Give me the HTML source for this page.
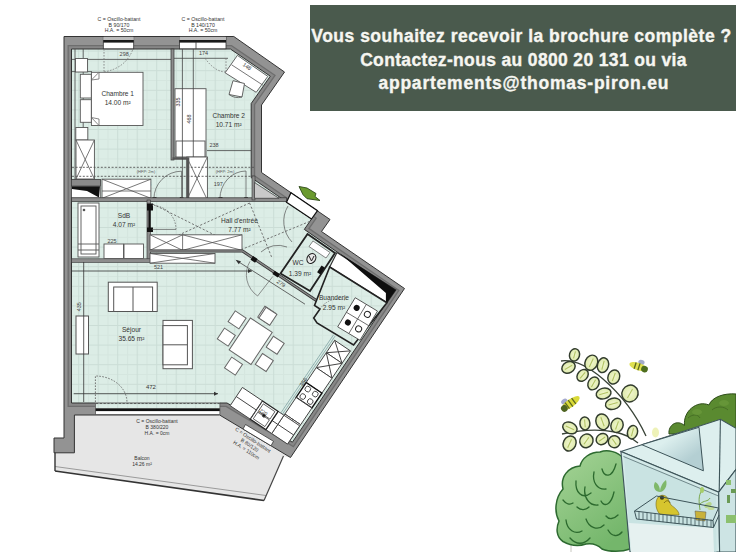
<!DOCTYPE html>
<html><head><meta charset="utf-8">
<style>
html,body{margin:0;padding:0;background:#fff;}
body{width:736px;height:552px;overflow:hidden;position:relative;font-family:"Liberation Sans",sans-serif;}
svg{position:absolute;left:0;top:0;}
.box{position:absolute;left:310px;top:5px;width:426px;height:105.5px;background:#4a5a4d;}
.box div{position:absolute;left:0;width:426px;text-align:center;color:#f6f6f1;font-weight:bold;font-size:17.5px;white-space:nowrap;line-height:20px;-webkit-text-stroke:0.35px #f6f6f1;}
</style></head><body>
<svg width="736" height="552" viewBox="0 0 736 552" font-family="Liberation Sans, sans-serif">
<defs>
<pattern id="grid" x="0.2" y="11.4" width="19.5" height="19.6" patternUnits="userSpaceOnUse">
<rect width="19.5" height="19.6" fill="#dcede6"/>
<path d="M0 10.3H19.5M10.25 0V19.6" stroke="#d5e6df" stroke-width="1"/>
<path d="M0 0.5H19.5M0.5 0V19.6" stroke="#cbddd6" stroke-width="1"/>
</pattern>
</defs>
<!-- balcony -->
<polygon points="74,414.5 219.6,414.5 290.5,457.5 283,456 264,500 55,471 55,452.8 74.4,452.8" fill="#e6e6e6"/>
<path d="M55,471 L264,500.5" stroke="#333" stroke-width="1.6" fill="none"/>
<path d="M55,466.5 L266,495.5" stroke="#666" stroke-width="0.6" fill="none"/>
<path d="M283.5,456 L264,500.5" stroke="#444" stroke-width="1.2" fill="none"/>
<path d="M55,452 L55,471" stroke="#333" stroke-width="1.4"/>
<!-- outer walls -->
<polygon points="64,36.5 233.8,36.5 284.5,72 261.5,105 261.5,172.5 330,219.5 321.5,231.5 404.5,288.5 290.5,457.5 219.6,415 74.4,415 74.4,438 74.4,452.8 54,452.8 54,438 64,438" fill="#939393" stroke="#333" stroke-width="1"/>
<!-- interior -->
<polygon points="71.5,49 230.4,49 270.3,76.2 251.2,103.5 251.2,177.6 311.5,219 304.3,229.4 394.2,291.3 292.4,442.2 227,403 71.5,403" fill="none" stroke="#6e6e6e" stroke-width="8"/>
<polygon points="71.5,49 230.4,49 270.3,76.2 251.2,103.5 251.2,177.6 311.5,219 304.3,229.4 394.2,291.3 292.4,442.2 227,403 71.5,403" fill="none" stroke="#878787" stroke-width="5.4"/>
<polygon points="71.5,49 230.4,49 270.3,76.2 251.2,103.5 251.2,177.6 311.5,219 304.3,229.4 394.2,291.3 292.4,442.2 227,403 71.5,403" fill="url(#grid)" stroke="#333" stroke-width="1"/>
<!-- ===== top windows & labels ===== -->
<g font-size="5.2" fill="#333" text-anchor="middle">
<text x="119" y="21">C = Oscillo-battant</text><text x="119" y="26.6">B 90/170</text><text x="119" y="32.2">H.A. = 50cm</text>
<text x="203" y="21">C = Oscillo-battant</text><text x="203" y="26.6">B 140/170</text><text x="203" y="32.2">H.A. = 50cm</text>
</g>
<rect x="103.3" y="36.5" width="30.4" height="12.3" fill="#fff" stroke="#333" stroke-width="0.8"/>
<rect x="103.3" y="37" width="30.4" height="3" fill="#bbb"/>
<rect x="103.3" y="40" width="30.4" height="2.6" fill="#1a1a1a"/>
<rect x="179.4" y="36.5" width="46.6" height="12.3" fill="#fff" stroke="#333" stroke-width="0.8"/>
<rect x="179.4" y="37" width="46.6" height="3" fill="#bbb"/>
<rect x="179.4" y="40" width="46.6" height="2.6" fill="#1a1a1a"/>
<line x1="196" y1="42" x2="196" y2="48.8" stroke="#333" stroke-width="0.8"/>

<!-- ===== Chambre 1 ===== -->
<g stroke="#444" stroke-width="0.8" fill="none">
<line x1="72" y1="59.4" x2="172" y2="59.4"/>
<line x1="72" y1="71.6" x2="92" y2="71.6"/>
<line x1="83.2" y1="49" x2="83.2" y2="180"/>
<line x1="75" y1="49" x2="75" y2="200"/>
</g>
<g fill="#fff" stroke="#555" stroke-width="0.9">
<rect x="75.5" y="58.5" width="12" height="13.5"/>
<rect x="91.4" y="72.3" width="51.6" height="53.2"/>
<rect x="80.3" y="74.3" width="11" height="23.7"/>
<rect x="80.3" y="99.7" width="11" height="22.6"/>
<rect x="75.8" y="127.5" width="12" height="12.5"/>
<rect x="76" y="140" width="18.4" height="39"/>
</g>
<path d="M76,140 L94.4,179 M94.4,140 L76,179" stroke="#555" stroke-width="0.8"/>
<path d="M91.4,80 L99,72.3 L99,79 Z M91.4,117.5 L99,125.5 L99,119 Z" fill="#fff" stroke="#555" stroke-width="0.7"/>
<path d="M104,49 L104,72 M104,72 Q126,68 133,49" stroke="#777" stroke-width="0.8" stroke-dasharray="1.6 1.4" fill="none"/>
<text x="124.2" y="56.3" font-size="5.5" fill="#444" text-anchor="middle">298</text>

<!-- wall chambre1/chambre2 -->
<rect x="171" y="49" width="3" height="111" fill="#8d8d8d" stroke="#333" stroke-width="0.7"/>

<!-- ===== Chambre 2 ===== -->
<g stroke="#444" stroke-width="0.8" fill="none">
<line x1="174" y1="58.3" x2="228" y2="58.3"/>
<line x1="207" y1="150.6" x2="251" y2="150.6"/>
</g>
<path d="M205,58.3 Q215,72 226,72 M226,58.3 L226,72" stroke="#777" stroke-width="0.8" stroke-dasharray="1.6 1.4" fill="none"/>
<text x="203.5" y="55" font-size="5.5" fill="#444" text-anchor="middle">174</text>
<g fill="#fff" stroke="#555" stroke-width="0.9">
<rect x="175" y="88.7" width="31" height="68.3"/>
<rect x="176" y="141" width="29" height="16"/>
<polygon points="237.4,55.4 267.8,76.4 256.2,92.3 225.1,72.8"/>
<polygon points="233,80.7 244.5,83.5 242,97 229,94.5"/>
<rect x="186.7" y="157" width="20.7" height="43"/>
</g>
<path d="M231.6,64.8 L262.8,85.1" stroke="#555" stroke-width="0.8"/>
<path d="M186.7,157 L207.4,200 M207.4,157 L186.7,200" stroke="#555" stroke-width="0.8"/>
<path d="M172.5,158.5 L188,158.5 L188,199" stroke="#555" stroke-width="2.6" fill="none"/>
<g fill="#222"><rect x="152.5" y="197" width="4" height="3.5"/><rect x="179.8" y="197" width="3.5" height="3.5"/><rect x="218.5" y="197" width="4" height="3.5"/><rect x="244.3" y="197" width="3.5" height="3.5"/></g>
<path d="M229,94.5 Q235,99 242,97" stroke="#555" stroke-width="0.8" fill="none"/>
<g stroke="#444" stroke-width="0.8"><line x1="182.4" y1="49" x2="182.4" y2="200"/><line x1="193.3" y1="49" x2="193.3" y2="157"/></g>
<text font-size="5.5" fill="#333" text-anchor="middle" transform="translate(246,68) rotate(34.5)">148</text>
<text font-size="5.5" fill="#333" text-anchor="middle" transform="translate(190.5,119) rotate(-90)">468</text>
<text font-size="5.5" fill="#333" text-anchor="middle" transform="translate(179.5,102) rotate(-90)">335</text>
<text x="214" y="146.5" font-size="5.5" fill="#444" text-anchor="middle">238</text>

<!-- dashed HFP lines across bedrooms -->
<g stroke="#555" stroke-width="0.9" stroke-dasharray="2 1.6" fill="none">
<line x1="72" y1="167.3" x2="254" y2="167.3"/>
<line x1="72" y1="176.3" x2="254" y2="176.3"/>
</g>
<text x="146" y="173" font-size="4" fill="#555" text-anchor="middle">(HFP: 2m)</text>
<text x="225" y="173" font-size="4" fill="#555" text-anchor="middle">(HFP: 2m)</text>

<!-- door arcs bedrooms -->
<g stroke="#555" stroke-width="0.7" fill="none">
<path d="M181.6,199 L181.6,171.2 A27.7,27.7 0 0 0 153.9,199"/>
<path d="M246,199 L246,171 A26.1,28 0 0 0 219.9,199"/>
</g>
<text x="146.5" y="185.5" font-size="5.5" fill="#444" text-anchor="middle">208</text>
<text x="218.3" y="186" font-size="5.5" fill="#444" text-anchor="middle">197</text>

<!-- shaft & closet between ch1 and SdB -->
<rect x="71.5" y="179.5" width="29" height="18.5" fill="#fff" stroke="#333" stroke-width="0.6"/>
<rect x="71.5" y="179.5" width="29" height="6.5" fill="#8a8a8a" stroke="#333" stroke-width="0.6"/>
<polygon points="72,186.3 100,186.3 99,197.5 87,191 72,189" fill="#111"/>
<rect x="102" y="179.2" width="48.9" height="19.1" fill="#fff" stroke="#555" stroke-width="0.9"/>
<path d="M102,179.2 L150.9,198.3 M150.9,179.2 L102,198.3 M102,191 L150.9,191" stroke="#555" stroke-width="0.8"/>

<!-- bedrooms / hall wall -->
<rect x="71.5" y="197.8" width="215" height="3.6" fill="#8d8d8d" stroke="#333" stroke-width="0.7"/>
<rect x="252" y="176" width="3" height="24" fill="#8d8d8d" stroke="#333" stroke-width="0.6"/>
<polygon points="254.5,182.5 254.5,198.3 279,198.3" fill="#c9c9c9" stroke="#444" stroke-width="0.8"/>

<!-- ===== SdB ===== -->
<rect x="147" y="200" width="3.5" height="61" fill="#8d8d8d" stroke="#333" stroke-width="0.6"/>
<rect x="71.5" y="258.8" width="79" height="3.6" fill="#8d8d8d" stroke="#333" stroke-width="0.6"/>
<g fill="#fff" stroke="#555" stroke-width="0.9">
<rect x="78" y="203" width="21" height="54"/>
<rect x="81" y="206" width="15" height="48"/>
<line x1="78" y1="244" x2="99" y2="244"/><line x1="78" y1="250" x2="99" y2="250"/>
<rect x="104" y="244" width="19.5" height="14.5"/>
<rect x="124" y="244" width="19.5" height="14.5"/>
</g>
<circle cx="84" cy="210" r="1.3" fill="#555"/>
<text x="112" y="243" font-size="5.5" fill="#444" text-anchor="middle">225</text>
<line x1="149.5" y1="204" x2="149.5" y2="231" stroke="#111" stroke-width="2"/>
<g fill="#111"><rect x="147" y="203.5" width="6" height="7"/><rect x="147" y="227.5" width="6" height="4.5"/></g>
<!-- ===== Hall ===== -->
<g stroke="#666" stroke-width="0.9" stroke-dasharray="2.2 1.8" fill="none">
<line x1="152.6" y1="204" x2="242.7" y2="249"/>
<line x1="249.6" y1="203" x2="152.6" y2="246.8"/>
<line x1="249.6" y1="203" x2="272" y2="258"/>
<line x1="309.7" y1="221.4" x2="242.7" y2="249"/>
</g>
<g stroke="#555" stroke-width="0.7" fill="none">
<path d="M152,229.4 L176,229.4"/>
<path d="M176,229.4 A24,24 0 0 0 152,205.4" stroke-dasharray="1.5 1.3"/>
<path d="M288,206 A30,30 0 0 0 292,242"/>
<path d="M261,252 A25,25 0 0 1 287,247"/>
</g>
<rect x="150" y="234.8" width="92" height="15.5" fill="#fff" stroke="#555" stroke-width="0.9"/>
<path d="M150,234.8 L182.6,250.3 M182.6,234.8 L150,250.3 M182.6,234.8 L242,250.3 M242,234.8 L182.6,250.3 M182.6,234.8 L182.6,250.3" stroke="#555" stroke-width="0.8"/>
<!-- hall / sejour wall -->
<path d="M150,251 L242.5,251 L320,303" stroke="#333" stroke-width="3" fill="none"/>
<path d="M150,251 L242.5,251 L320,303" stroke="#888" stroke-width="1.4" fill="none"/>
<rect x="150" y="253.5" width="65" height="9.7" fill="#fff" stroke="#555" stroke-width="0.9"/>
<path d="M150,253.5 L215,263.2 M215,253.5 L150,263.2" stroke="#555" stroke-width="0.8"/>
<text x="158.5" y="269" font-size="5.5" fill="#444" text-anchor="middle">521</text>
<path d="M237,260.8 L305,304.2" stroke="#444" stroke-width="0.8" fill="none"/>
<path d="M235.5,259.8 L241,261.2 L238.8,264.2 Z" fill="#333"/>
<path d="M272.8,276.5 L257.6,296 A26,26 0 0 1 250,261.3" stroke="#666" stroke-width="0.7" fill="none"/>
<g fill="#111"><rect x="251.5" y="257" width="5.5" height="4.5" transform="rotate(34 254 259)"/><rect x="273" y="272" width="6.5" height="4" transform="rotate(34 276 274)"/></g>

<!-- entrance door -->
<polygon points="291,192.7 317.5,210.7 311.5,219 286.5,202.3" fill="#fff" stroke="#111" stroke-width="1.2"/>
<polygon points="299,186.5 307,188 316,193.5 315,196.5 320,200.5 307,198.7 303,194.7" fill="#6a9a2e" stroke="#2e4a1a" stroke-width="0.9"/>

<!-- ===== WC ===== -->
<polygon points="307.5,234 335,253 310,291 280.5,273.5" fill="url(#grid)" stroke="#222" stroke-width="1.8"/>
<polygon points="313,241 330,252.5 326,258 309,246.5" fill="#fff" stroke="#555" stroke-width="0.7"/>
<ellipse cx="311.4" cy="258.5" rx="4.2" ry="5.2" transform="rotate(34 311.4 258.5)" fill="#e8e8e8" stroke="#222" stroke-width="1"/>
<path d="M309,256 L311.5,261 L314,256" stroke="#222" stroke-width="1" fill="none"/>
<rect x="319" y="266" width="4" height="8" transform="rotate(34 321 270)" fill="#111"/>

<!-- shaft -->
<polygon points="337,252.5 395.8,289.9 386.9,302.8 329.7,267" fill="#fff" stroke="#333" stroke-width="1.2"/>
<polygon points="340,253.5 395.8,289.9 386.9,302.8 385.9,301.8 385.9,292.9" fill="#0e0e0e"/>

<!-- ===== Buanderie ===== -->
<polygon points="329.7,267 386.9,302.8 353.6,345 317,323 313.7,318 320,309 314.5,305.5" fill="url(#grid)" stroke="#222" stroke-width="1.6"/>
<g transform="translate(355.2,297.7) rotate(31)">
<rect x="0" y="0" width="26" height="34" fill="#fff" stroke="#444" stroke-width="0.8"/>
<line x1="0" y1="17" x2="26" y2="17" stroke="#444" stroke-width="0.7"/>
<line x1="13" y1="0" x2="13" y2="34" stroke="#444" stroke-width="0.7"/>
<circle cx="6.5" cy="8" r="3" fill="#111"/><circle cx="19" cy="8" r="3" fill="none" stroke="#222" stroke-width="1"/>
<circle cx="6.5" cy="25" r="3" fill="#111"/><circle cx="19" cy="25" r="3" fill="none" stroke="#222" stroke-width="1"/>
</g>
<path d="M320,309 A22,22 0 0 1 345,300" stroke="#666" stroke-width="0.7" stroke-dasharray="1.5 1.2" fill="none"/>

<!-- ===== Kitchen along right wall ===== -->
<g transform="translate(390.7,291.2) rotate(124)" stroke="#444" stroke-width="0.9">
<line x1="68" y1="21" x2="184" y2="21" stroke="#8aa" stroke-width="0.8"/>
<line x1="68" y1="23" x2="184" y2="23" stroke="#8aa" stroke-width="0.8"/>
<rect x="72" y="0" width="15" height="19" fill="#fff"/>
<path d="M72,0 L87,19 M87,0 L72,19" fill="none"/>
<rect x="87" y="0" width="18" height="19" fill="#fff"/>
<path d="M87,0 L105,19 M105,0 L87,19" fill="none"/>
<rect x="105" y="0" width="18" height="19" fill="#fff"/>
<rect x="123" y="0" width="18" height="19" fill="#fff" stroke="#111" stroke-width="1.4"/>
<circle cx="127.5" cy="5" r="2.8" fill="none"/><circle cx="136.5" cy="5" r="2.8" fill="none"/>
<circle cx="127.5" cy="14" r="2.8" fill="none"/><circle cx="136.5" cy="14" r="2.8" fill="none"/>
<rect x="141" y="0" width="20" height="19" fill="#fff"/>
<rect x="161" y="0" width="23" height="19" fill="#fff"/>
<line x1="161" y1="9.5" x2="184" y2="9.5"/>
</g>
<text font-size="5.5" fill="#444" text-anchor="middle" transform="translate(305,383) rotate(-56)">356</text>

<!-- ===== Kitchen along bottom wall ===== -->
<g transform="translate(287.5,444.1) rotate(213.8)" stroke="#444" stroke-width="0.9">
<rect x="0" y="0" width="19" height="22" fill="#fff"/>
<line x1="0" y1="11" x2="19" y2="11"/>
<rect x="19" y="0" width="7" height="22" fill="#fff"/>
<line x1="19" y1="11" x2="26" y2="11"/>
<rect x="26" y="0" width="19" height="22" fill="#fff" stroke="#222" stroke-width="1.3"/>
<rect x="28.5" y="11" width="14" height="9" fill="#fff" stroke="#333" stroke-width="0.7"/>
<rect x="28.5" y="2" width="14" height="8" fill="#fff" stroke="#333" stroke-width="0.7"/>
<circle cx="35.5" cy="10.5" r="1.5" fill="#111"/>
<rect x="45" y="0" width="24" height="22" fill="#fff"/>
<line x1="45" y1="11" x2="69" y2="11"/>
</g>
<text font-size="5" fill="#333" text-anchor="middle" transform="translate(262.5,413.5) rotate(34)">220</text>

<!-- séjour furniture -->
<g fill="#fff" stroke="#555" stroke-width="1">
<rect x="108.3" y="282.2" width="48.9" height="29.3"/>
<rect x="113.7" y="287" width="38.9" height="24.5"/>
<rect x="163" y="320.4" width="29.4" height="48.3"/>
<rect x="163" y="325.6" width="24.4" height="39.2"/>
<rect x="76" y="316" width="12.5" height="38"/>
</g>
<path d="M133,287 L133,311.5 M163,344.8 L187.4,344.8" stroke="#555" stroke-width="1"/>
<g transform="translate(250.7,341.2) rotate(33.6)" fill="#fff" stroke="#666" stroke-width="1">
<rect x="-13.1" y="-19.2" width="26.2" height="38.4"/>
<rect x="-6.5" y="-37" width="13" height="13" transform="translate(-1 0)"/>
</g>
<g fill="#fff" stroke="#666" stroke-width="1">
<rect x="-6.5" y="-6.5" width="13" height="13" transform="translate(237.1,319.9) rotate(33.6)"/>
<rect x="-6.5" y="-6.5" width="13" height="13" transform="translate(267.9,316.3) rotate(33.6)"/>
<rect x="-6.5" y="-6.5" width="13" height="13" transform="translate(226.3,337.1) rotate(33.6)"/>
<rect x="-6.5" y="-6.5" width="13" height="13" transform="translate(275.2,345.3) rotate(33.6)"/>
<rect x="-6.5" y="-6.5" width="13" height="13" transform="translate(233.5,366.1) rotate(33.6)"/>
<rect x="-6.5" y="-6.5" width="13" height="13" transform="translate(264.3,362.5) rotate(33.6)"/>
</g>
<!-- dimension lines -->
<g stroke="#333" stroke-width="0.8" fill="none">
<line x1="72" y1="271" x2="252" y2="271"/>
<line x1="73.7" y1="393.7" x2="218" y2="393.7"/>
<line x1="83.7" y1="262" x2="83.7" y2="402"/>
</g>
<path d="M248,269 L252,271 L248,273 Z M214,391.7 L218,393.7 L214,395.7 Z" fill="#333"/>
<text x="150.9" y="389" font-size="6" fill="#333" text-anchor="middle">472</text>
<text font-size="5.5" fill="#444" text-anchor="middle" transform="translate(80.5,306.7) rotate(-90)">435</text>
<text font-size="5.5" fill="#444" text-anchor="middle" transform="translate(280,285) rotate(34)">279</text>
<path d="M95.4,402 L95.4,376 A31.5,26 0 0 1 126.9,402" stroke="#666" stroke-width="0.9" stroke-dasharray="1.6 1.4" fill="none"/>

<!-- sejour window -->
<rect x="95.4" y="402.5" width="124.5" height="12" fill="#fff"/>
<rect x="95.4" y="402.5" width="124.5" height="6" fill="url(#grid)"/>
<rect x="95.4" y="408.3" width="124.5" height="2.8" fill="#111"/>
<rect x="95.4" y="403" width="124.5" height="11.5" fill="none" stroke="#444" stroke-width="0.7"/>
<line x1="96" y1="403.5" x2="220" y2="403.5" stroke="#555" stroke-width="0.9" stroke-dasharray="2.2 1.6"/>
<!-- kitchen window in bottom diagonal wall -->
<polygon points="243,429 271,445.8 273.5,441.3 245.5,424.5" fill="#fff" stroke="#333" stroke-width="0.8"/>

<!-- ===== room labels ===== -->
<g font-size="6.6" fill="#333" text-anchor="middle">
<text x="117.7" y="95.8">Chambre 1</text><text x="117.7" y="104.8">14.00 m²</text>
<text x="228.7" y="118.2">Chambre 2</text><text x="228.7" y="127.2">10.71 m²</text>
<text x="124" y="218.2">SdB</text><text x="124" y="227.2">4.07 m²</text>
<text x="239.4" y="222.8">Hall d'entrée</text><text x="239.4" y="231.9">7.77 m²</text>
<text x="131.5" y="332.2">Séjour</text><text x="131.5" y="340.9">35.65 m²</text>
<text x="298" y="265">WC</text><text x="300" y="275.6">1.39 m²</text>
<text x="334" y="299.9">Buanderie</text><text x="334" y="309.7">2.95 m²</text>
</g>
<g font-size="5" fill="#333" text-anchor="middle">
<text x="157" y="423">C = Oscillo-battant</text><text x="157" y="429">B 380/220</text><text x="157" y="435">H.A. = 0cm</text>
<text x="142" y="460">Balcon</text><text x="142" y="466">14.26 m²</text>
</g>
<g font-size="5" fill="#333" text-anchor="middle" transform="translate(252,441.5) rotate(33.6)">
<text x="0" y="0">C = Oscillo-battant</text><text x="0" y="6">B 80/120</text><text x="0" y="12">H.A. = 110cm</text>
</g>
<!-- ===== Illustration ===== -->
<defs>
<radialGradient id="leafg" cx="0.5" cy="0.5" r="0.6"><stop offset="0" stop-color="#f1f6cf"/><stop offset="1" stop-color="#d9e7a3"/></radialGradient>
<linearGradient id="treeg" x1="0" y1="0" x2="0.6" y2="1"><stop offset="0" stop-color="#a6d497"/><stop offset="1" stop-color="#74b66b"/></linearGradient>
<linearGradient id="glassg" x1="0" y1="0" x2="1" y2="1"><stop offset="0" stop-color="#e4f2f1"/><stop offset="1" stop-color="#cfe6e6"/></linearGradient>
</defs>
<!-- dark tree behind building -->
<path d="M669,434 C668,425 677,419 684.5,425.5 C683,411 697,400 709,405 C712,397 724,393 736,394 L736,432 L669,434 Z" fill="#5a8a30" stroke="#2e4d1a" stroke-width="1"/>
<path d="M688,418 C692,414 698,414 700,418 M712,410 C716,406 724,406 728,410" stroke="#476f26" stroke-width="1" fill="none"/>
<ellipse cx="697" cy="412" rx="5" ry="3" fill="#6e9c3e" opacity="0.6"/>
<ellipse cx="724" cy="403" rx="5" ry="3" fill="#6e9c3e" opacity="0.6"/>
<!-- pale yellow blob -->
<ellipse cx="655.5" cy="432.5" rx="3.5" ry="5" fill="#eef2b8"/>

<!-- branch 1 -->
<path d="M561,361 C575,359 590,368 603,379 C618,392 634,410 646,436" stroke="#3a4438" stroke-width="1.3" fill="none"/>
<!-- branch 2 -->
<path d="M562,434 C580,430 600,429 615,432 C625,434 632,438 638,443" stroke="#3a4438" stroke-width="1.3" fill="none"/>
<g transform="translate(574.5 354.9) rotate(15)"><ellipse rx="5" ry="6.2" fill="url(#leafg)" stroke="#323c2d" stroke-width="1.45"/><g stroke="#b0c262" stroke-width="1.1"><line x1="0" y1="-3.7" x2="0" y2="3.7"/></g></g>
<g transform="translate(568.5 367.4) rotate(-30)"><ellipse rx="7" ry="5.5" fill="url(#leafg)" stroke="#323c2d" stroke-width="1.45"/><g stroke="#b0c262" stroke-width="1.1"><line x1="-4.2" y1="0" x2="4.2" y2="0"/></g></g>
<g transform="translate(591.3 362.7) rotate(25)"><ellipse rx="6.2" ry="7.8" fill="url(#leafg)" stroke="#323c2d" stroke-width="1.45"/><g stroke="#b0c262" stroke-width="1.1"><line x1="0" y1="-4.7" x2="0" y2="4.7"/></g></g>
<g transform="translate(603 365.2) rotate(15)"><ellipse rx="5.5" ry="7.5" fill="url(#leafg)" stroke="#323c2d" stroke-width="1.45"/><g stroke="#b0c262" stroke-width="1.1"><line x1="0" y1="-4.5" x2="0" y2="4.5"/></g></g>
<g transform="translate(582.6 375.4) rotate(-50)"><ellipse rx="6.5" ry="5" fill="url(#leafg)" stroke="#323c2d" stroke-width="1.45"/><g stroke="#b0c262" stroke-width="1.1"><line x1="-3.9" y1="0" x2="3.9" y2="0"/></g></g>
<g transform="translate(593.5 383.4) rotate(30)"><ellipse rx="5.3" ry="6.8" fill="url(#leafg)" stroke="#323c2d" stroke-width="1.45"/><g stroke="#b0c262" stroke-width="1.1"><line x1="0" y1="-4.1" x2="0" y2="4.1"/></g></g>
<g transform="translate(613.8 377) rotate(20)"><ellipse rx="5.8" ry="7.2" fill="url(#leafg)" stroke="#323c2d" stroke-width="1.45"/><g stroke="#b0c262" stroke-width="1.1"><line x1="0" y1="-4.3" x2="0" y2="4.3"/></g></g>
<g transform="translate(603.6 393.5) rotate(-15)"><ellipse rx="7.5" ry="5.3" fill="url(#leafg)" stroke="#323c2d" stroke-width="1.45"/><g stroke="#b0c262" stroke-width="1.1"><line x1="-4.5" y1="0" x2="4.5" y2="0"/></g></g>
<g transform="translate(630 393.5) rotate(30)"><ellipse rx="8" ry="8.5" fill="url(#leafg)" stroke="#323c2d" stroke-width="1.45"/><g stroke="#b0c262" stroke-width="1.1"><line x1="0" y1="-5.1" x2="0" y2="5.1"/></g></g>
<g transform="translate(613.1 403.8) rotate(-15)"><ellipse rx="7.8" ry="5.5" fill="url(#leafg)" stroke="#323c2d" stroke-width="1.45"/><g stroke="#b0c262" stroke-width="1.1"><line x1="-4.7" y1="0" x2="4.7" y2="0"/></g></g>
<g transform="translate(569.9 427.9) rotate(25)"><ellipse rx="7.5" ry="5.5" fill="url(#leafg)" stroke="#323c2d" stroke-width="1.45"/><g stroke="#b0c262" stroke-width="1.1"><line x1="-4.5" y1="0" x2="4.5" y2="0"/></g></g>
<g transform="translate(584.9 423.4) rotate(-5)"><ellipse rx="5" ry="6.5" fill="url(#leafg)" stroke="#323c2d" stroke-width="1.45"/><g stroke="#b0c262" stroke-width="1.1"><line x1="0" y1="-3.9" x2="0" y2="3.9"/></g></g>
<g transform="translate(602.5 421.8) rotate(-20)"><ellipse rx="6.5" ry="8" fill="url(#leafg)" stroke="#323c2d" stroke-width="1.45"/><g stroke="#b0c262" stroke-width="1.1"><line x1="0" y1="-4.8" x2="0" y2="4.8"/></g></g>
<g transform="translate(617 425.4) rotate(20)"><ellipse rx="6" ry="7.2" fill="url(#leafg)" stroke="#323c2d" stroke-width="1.45"/><g stroke="#b0c262" stroke-width="1.1"><line x1="0" y1="-4.3" x2="0" y2="4.3"/></g></g>
<g transform="translate(632.5 432.2) rotate(15)"><ellipse rx="5" ry="6.8" fill="url(#leafg)" stroke="#323c2d" stroke-width="1.45"/><g stroke="#b0c262" stroke-width="1.1"><line x1="0" y1="-4.1" x2="0" y2="4.1"/></g></g>
<g transform="translate(569.6 443.5) rotate(25)"><ellipse rx="6.3" ry="7.7" fill="url(#leafg)" stroke="#323c2d" stroke-width="1.45"/><g stroke="#b0c262" stroke-width="1.1"><line x1="0" y1="-4.6" x2="0" y2="4.6"/></g></g>
<g transform="translate(586.4 440.8) rotate(35)"><ellipse rx="6.5" ry="7" fill="url(#leafg)" stroke="#323c2d" stroke-width="1.45"/><g stroke="#b0c262" stroke-width="1.1"><line x1="0" y1="-4.2" x2="0" y2="4.2"/></g></g>
<g transform="translate(602.1 439.1) rotate(-35)"><ellipse rx="6.2" ry="5.3" fill="url(#leafg)" stroke="#323c2d" stroke-width="1.45"/><g stroke="#b0c262" stroke-width="1.1"><line x1="-3.7" y1="0" x2="3.7" y2="0"/></g></g>
<g transform="translate(614.3 441.7) rotate(-35)"><ellipse rx="6" ry="6" fill="url(#leafg)" stroke="#323c2d" stroke-width="1.45"/><g stroke="#b0c262" stroke-width="1.1"><line x1="0" y1="-3.6" x2="0" y2="3.6"/></g></g>
<!-- bees -->
<g transform="translate(638,366.5) rotate(18)">
<ellipse cx="2" cy="-5" rx="3.2" ry="2.4" fill="#9aa3c4" opacity="0.9"/>
<ellipse cx="0" cy="0" rx="9" ry="3.6" fill="#dfe050"/>
<path d="M-3,-3.3 L-3,3.3 M1,-3.6 L1,3.6" stroke="#5d6a20" stroke-width="1.3"/>
<ellipse cx="7" cy="0.5" rx="3.4" ry="3.3" fill="#4e6e1e"/>
</g>
<g transform="translate(570.5,403.3) rotate(-36)">
<ellipse cx="-4" cy="-5" rx="3.4" ry="2.6" fill="#9aa0c8" opacity="0.9"/>
<ellipse cx="0" cy="0" rx="11" ry="4" fill="#dada3a"/>
<path d="M-4,-3.8 L-4,3.8 M0,-4 L0,4 M4,-3.6 L4,3.6" stroke="#5d6a20" stroke-width="1.3"/>
<ellipse cx="-8" cy="0.5" rx="3.3" ry="3.4" fill="#4e6320"/>
</g>

<!-- green bush -->
<line x1="571" y1="543" x2="571" y2="552" stroke="#c8c8c0" stroke-width="1"/>
<path d="M563,541.5 C556,537 556,528 559,521 C554,512 555,498 563,489 C560,477 568,467 580,466 C582,458 590,452 600,452 C608,449 618,452 623,458 L630,549 C622,552 609,552 602,549 C598,545 592,543 586,544 C580,546 571,546 563,541.5 Z" fill="url(#treeg)" stroke="#2d6a30" stroke-width="1.5"/>
<g stroke="#2c6a2e" stroke-width="1.3" fill="none" stroke-linecap="round">
<path d="M576,481 C575,492 582,500 591,493 M594,472 C592,482 597,490 606,489 M602,469 C604,477 612,479 616,464"/>
<path d="M585,487 C583,498 590,506 598,505 M577,507 C581,511 586,510 589,507 M601,501 C604,507 611,506 614,492 M606,516 C609,520 614,519 618,515"/>
<path d="M566,520 C567,530 575,535 582,531 M586,519 C589,528 598,531 604,525 M570,538 C576,545 584,545 590,538 M608,530 C612,537 618,537 622,532 M563,500 C566,504 570,505 573,503"/>
</g>

<!-- building -->
<polygon points="620.9,451.4 720.4,419.3 736,428.3 736,469.4 718.7,492.2" fill="#ddefee" stroke="#3d5459" stroke-width="1.1"/>
<linearGradient id="skyg" x1="0" y1="0" x2="1" y2="1"><stop offset="0.35" stop-color="#dcefee"/><stop offset="0.75" stop-color="#b4cfd3"/></linearGradient>
<polygon points="641.8,444.7 699,427.3 703.4,470.8" fill="url(#skyg)" stroke="#3d5459" stroke-width="1"/>
<polygon points="620.9,451.4 718.7,492.2 719.6,552 630,552" fill="#d3e9e8" stroke="#3d5459" stroke-width="1.1"/>
<polygon points="718.7,492.2 736,469.4 736,552 719.6,552" fill="#cde4e4" stroke="#3d5459" stroke-width="1.1"/>
<line x1="720.4" y1="419.3" x2="719.2" y2="492" stroke="#3d5459" stroke-width="1.1"/>
<polygon points="624,456 716,494.5 716.5,552 631,552" fill="#c4dfe0" opacity="0.7"/>
<polygon points="629,523 713,528 714,552 631,552" fill="#e6f1f0"/>
<line x1="623.5" y1="456.5" x2="718.5" y2="496" stroke="#3d5459" stroke-width="0.8" opacity="0.8"/>
<!-- plant leaves inside -->
<path d="M655,482 C652,488 656,492 660,492 C660,488 659,484 655,482 Z M666,480 C668,486 664,492 660,492 C660,488 662,483 666,480 Z" fill="#7fb86a"/>
<!-- person -->
<path d="M657,499 C659,494 666,494 668,499 L671,505 C675,508 679,511 679,515 L660,514.5 C656,510 655,504 657,499 Z" fill="#d6c52e" stroke="#7a6a12" stroke-width="0.6"/>
<circle cx="662" cy="497.7" r="2.1" fill="#3a3a20"/>
<path d="M664,503 C666,500 669,500 670,503" stroke="#6a5a10" stroke-width="0.8" fill="none"/>
<!-- pot plant -->
<path d="M700,510 C699,502 698,496 702,490 M700,504 C704,500 708,502 710,498" stroke="#7aa84e" stroke-width="1" fill="none"/>
<ellipse cx="708" cy="505" rx="4" ry="2.2" fill="#b5d48a" transform="rotate(-30 708 505)"/><ellipse cx="711" cy="508" rx="3.5" ry="2" fill="#c4dd98"/>
<ellipse cx="702" cy="490" rx="2" ry="3" fill="#a7cf6a"/>
<path d="M695,511 L706,512 L705,521 L696,520 Z" fill="#c9b23a" stroke="#555" stroke-width="0.5"/>
<!-- railing -->
<g stroke="#3d5459" stroke-width="1" fill="none">
<path d="M634.5,511 L656.5,496 L718.5,508 L713,520.5 Z"/>
<path d="M634.5,511 L636.5,519 L713.5,527.5 L713,520.5"/>
<path d="M713.5,527.5 L719,515"/>
</g>
<g stroke="#3d5459" stroke-width="0.8">
<path d="M639,512 V519.5 M643,512.5 V520 M647,512.9 V520.4 M651,513.3 V520.8 M655,513.7 V521.3 M659,514.1 V521.7 M663,514.5 V522.1 M667,515 V522.6 M671,515.4 V523 M675,515.8 V523.4 M679,516.2 V523.9 M683,516.6 V524.3 M687,517 V524.7 M691,517.4 V525.1 M695,517.9 V525.6 M699,518.3 V526 M703,518.7 V526.4 M707,519.1 V526.8 M711,519.5 V527.2"/>
</g>
<!-- right face plants -->
<rect x="726" y="480" width="5" height="5" fill="#8cc06e"/>
<rect x="727" y="495" width="3" height="8" fill="#6a9a55"/>
<rect x="726" y="515" width="10" height="8" fill="#8cc06e"/>
<rect x="731" y="489" width="5" height="4" fill="#6a9a55"/>
</svg>
<div class="box">
<div style="top:20.7px;left:-1.5px;letter-spacing:0.5px">Vous souhaitez recevoir la brochure complète ?</div>
<div style="top:44.7px;left:0.5px;letter-spacing:0.35px">Contactez-nous au 0800 20 131 ou via</div>
<div style="top:67.7px;left:0.8px;letter-spacing:0.78px">appartements@thomas-piron.eu</div>
</div>
</body></html>
